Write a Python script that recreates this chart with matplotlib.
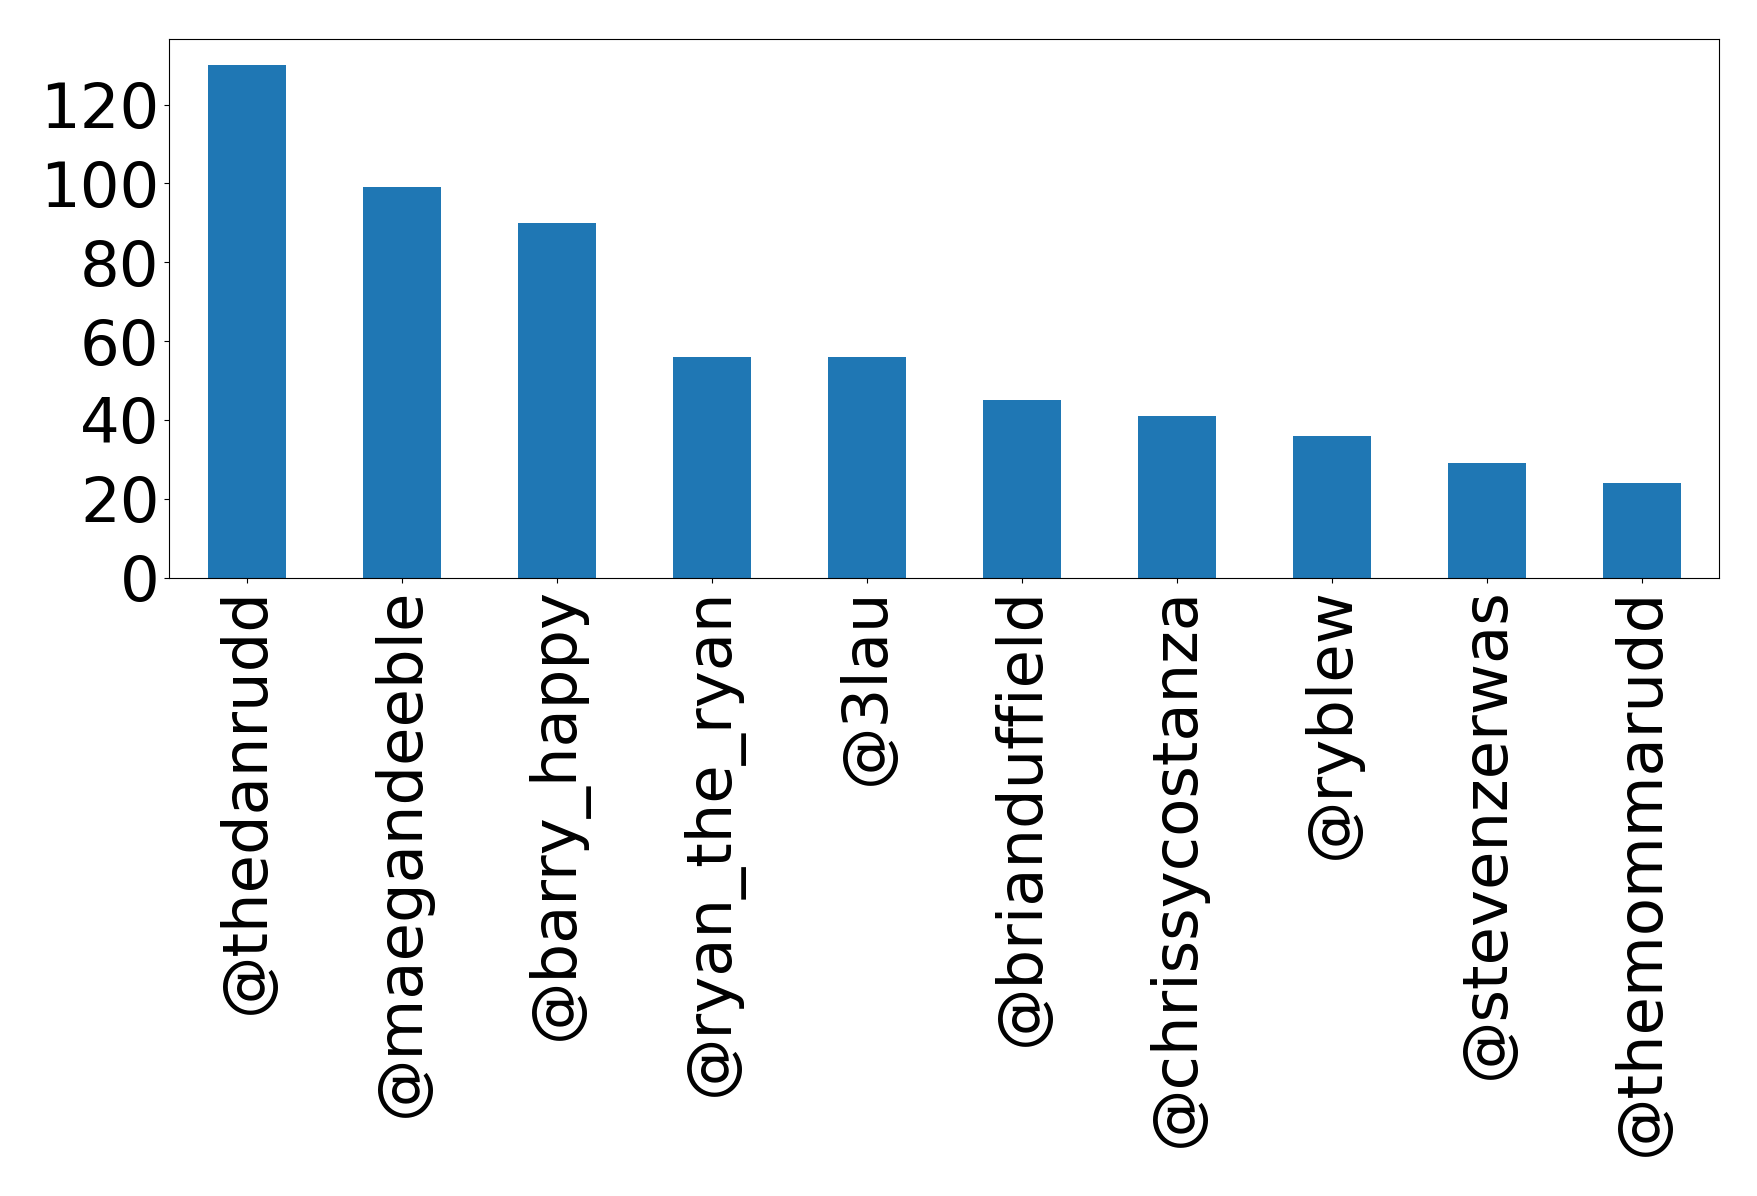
import matplotlib
matplotlib.use('Agg')
import matplotlib.pyplot as plt
import numpy as np

# Mention counts per user
users = ['@thedanrudd', '@maegandeeble', '@barry_happy', '@ryan_the_ryan', '@3lau',
         '@brianduffield', '@chrissycostanza', '@ryblew', '@stevenzerwas', '@themommarudd']
counts = [130, 99, 90, 56, 56, 45, 41, 36, 29, 24]
yticks = [0, 20, 40, 60, 80, 100, 120]

fig = plt.figure(figsize=(17.58, 11.96), dpi=100)
ax = fig.add_axes([0.0963, 0.517, 0.978 - 0.0963, 0.967 - 0.517])
x = np.arange(len(users))
ax.bar(x, counts, width=0.5, color='#1f77b4')
ax.set_xlim(-0.5, len(users) - 0.5)
ax.set_xticks(x)
ax.set_xticklabels(users, rotation=90, fontsize=45)
ax.set_yticks(yticks)
ax.tick_params(axis='y', labelsize=45)

fig.savefig('out.png', dpi=100)
